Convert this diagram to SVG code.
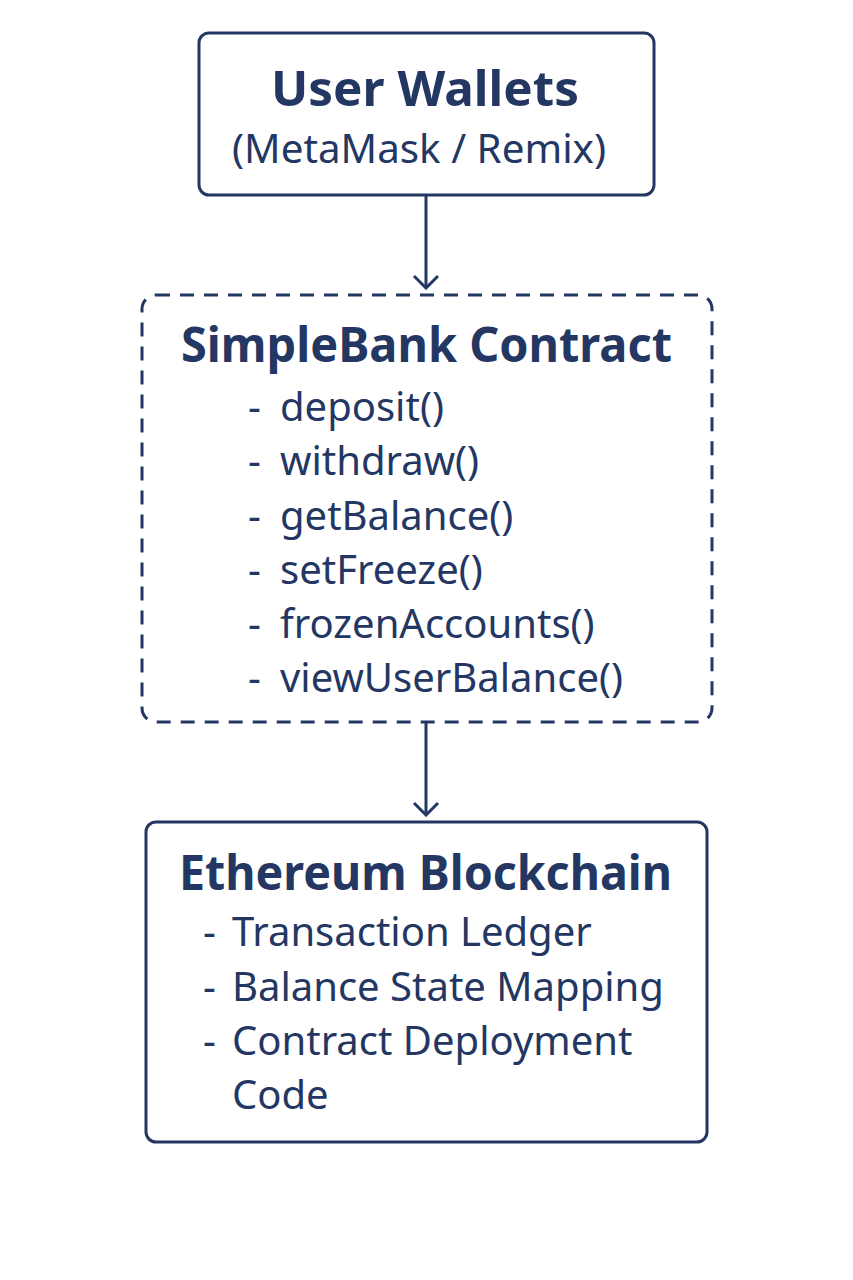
<svg xmlns="http://www.w3.org/2000/svg" width="853" height="1280" viewBox="0 0 853 1280">
<style>
.box{fill:#fff;stroke:#243763;stroke-width:3}
.dash{stroke-dasharray:14 10}
.t{font-family:"Noto Sans","Open Sans",sans-serif;fill:#243763}
.title{font-size:48px;font-weight:700}
.item{font-size:40px}
.conn{stroke:#243763;stroke-width:3;fill:none}
</style>
<defs>
<marker id="arr" viewBox="0 0 16 28" refX="14" refY="14" markerWidth="16" markerHeight="28" markerUnits="userSpaceOnUse" orient="auto">
<path d="M2 2 L14 14 L2 26" fill="none" stroke="#243763" stroke-width="3"/>
</marker>
</defs>
<rect width="853" height="1280" fill="#fff"/>
<g id="connectors">
<line class="conn" x1="426" y1="195" x2="426" y2="288" marker-end="url(#arr)"/>
<line class="conn" x1="426" y1="722" x2="426" y2="815" marker-end="url(#arr)"/>
</g>
<g id="user-wallets">
<rect class="box" x="199" y="33" width="455" height="162" rx="10"/>
<text class="t title" x="271" y="106" textLength="308" lengthAdjust="spacingAndGlyphs">User Wallets</text>
<text class="t item" x="232" y="163" textLength="374" lengthAdjust="spacingAndGlyphs">(MetaMask / Remix)</text>
</g>
<g id="simplebank">
<rect class="box dash" x="142" y="295" width="570" height="427" rx="14"/>
<text class="t title" x="181" y="362" textLength="491" lengthAdjust="spacingAndGlyphs">SimpleBank Contract</text>
<text class="t item" y="421"><tspan x="248">-</tspan><tspan x="280">deposit()</tspan></text>
<text class="t item" y="475"><tspan x="248">-</tspan><tspan x="280">withdraw()</tspan></text>
<text class="t item" y="530"><tspan x="248">-</tspan><tspan x="280">getBalance()</tspan></text>
<text class="t item" y="584"><tspan x="248">-</tspan><tspan x="280">setFreeze()</tspan></text>
<text class="t item" y="638"><tspan x="248">-</tspan><tspan x="280">frozenAccounts()</tspan></text>
<text class="t item" y="692"><tspan x="248">-</tspan><tspan x="280">viewUserBalance()</tspan></text>
</g>
<g id="ethereum">
<rect class="box" x="146" y="822" width="561" height="320" rx="10"/>
<text class="t title" x="179" y="890" textLength="493" lengthAdjust="spacingAndGlyphs">Ethereum Blockchain</text>
<text class="t item" y="946"><tspan x="203">-</tspan><tspan x="232">Transaction Ledger</tspan></text>
<text class="t item" y="1001"><tspan x="203">-</tspan><tspan x="232">Balance State Mapping</tspan></text>
<text class="t item" y="1055"><tspan x="203">-</tspan><tspan x="232">Contract Deployment</tspan></text>
<text class="t item" x="232" y="1109">Code</text>
</g>
</svg>
